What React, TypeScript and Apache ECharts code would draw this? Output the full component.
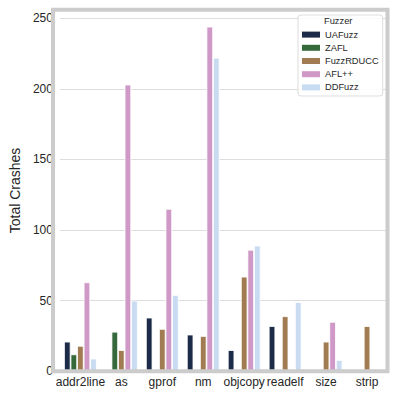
import React, { useEffect, useRef } from "react";
import * as echarts from "echarts";

const categories = ["addr2line", "as", "gprof", "nm", "objcopy", "readelf", "size", "strip"];
const fuzzers = ["UAFuzz", "ZAFL", "FuzzRDUCC", "AFL++", "DDFuzz"];
const uafuzz = [21, 0, 38, 26, 15, 32, 0, 0];
const zafl = [12, 28, 0, 0, 0, 0, 0, 0];
const fuzzrducc = [18, 15, 30, 25, 67, 39, 21, 32];
const aflpp = [63, 203, 115, 244, 86, 0, 35, 0];
const ddfuzz = [9, 50, 54, 222, 89, 49, 8, 0];
const seriesValues = [uafuzz, zafl, fuzzrducc, aflpp, ddfuzz];
const colors = ["#1c2b47", "#35693c", "#a17b51", "#cf98c6", "#c8dbf1"];
const yTicks = [0, 50, 100, 150, 200, 250];

export default function App() {
  const ref = useRef<HTMLDivElement>(null);
  useEffect(() => {
    const chart = echarts.init(ref.current!, null, { renderer: "svg" });
    const font = "'Liberation Sans', Arial, sans-serif";
    const L = 53, R = 11.5, T = 9.7, B = 27.7;
    chart.setOption({
      animation: false,
      color: colors,
      grid: { left: L, right: R, top: T, bottom: B, show: false },
      xAxis: {
        type: "category",
        data: categories,
        axisLine: { show: false },
        axisTick: { show: false },
        axisLabel: { color: "#262626", fontSize: 12, fontFamily: font, margin: 5, interval: 0 },
        splitLine: { show: false },
      },
      yAxis: {
        type: "value",
        min: 0,
        max: 256,
        interval: 50,
        name: "Total Crashes",
        nameLocation: "middle",
        nameGap: 32,
        nameTextStyle: { color: "#262626", fontSize: 14, fontFamily: font },
        axisLine: { show: false },
        axisTick: { show: false },
        axisLabel: {
          color: "#262626",
          fontSize: 12,
          fontFamily: font,
          margin: 7,
          formatter: (v: number) => (yTicks.includes(v) ? String(v) : ""),
        },
        splitLine: { lineStyle: { color: "#dddddd", width: 1 } },
      },
      legend: {
        orient: "vertical",
        left: 298,
        top: 15,
        data: fuzzers,
        icon: "rect",
        itemWidth: 18,
        itemHeight: 6,
        itemGap: 0,
        itemStyle: { borderWidth: 0 },
        textStyle: { color: "#262626", fontSize: 9.3, fontFamily: font, lineHeight: 13.2 },
        backgroundColor: "rgba(255,255,255,0.85)",
        borderColor: "#dddddd",
        borderWidth: 1,
        borderRadius: 3,
        padding: [13, 4, 2, 4],
        itemTextGap: 8,
        z: 20,
      },
      graphic: [
        {
          type: "rect",
          shape: { x: L, y: T, width: 399 - L - R, height: 399 - T - B },
          style: { fill: "none", stroke: "#cccccc", lineWidth: 4 },
          z: 10,
          silent: true,
        },
        {
          type: "text",
          left: 324,
          top: 16.5,
          style: { text: "Fuzzer", fill: "#262626", fontSize: 9.3, fontFamily: font },
          z: 100,
        },
      ],
      series: fuzzers.map((name, i) => ({
        name,
        type: "bar",
        data: seriesValues[i].map((v) => (v === 0 ? "-" : v)),
        barGap: "0%",
        barCategoryGap: "20%",
        itemStyle: { color: colors[i], borderColor: "#ffffff", borderWidth: 0.8 },
      })),
    });
    return () => chart.dispose();
  }, []);
  return <div ref={ref} style={{ width: 399, height: 399, position: "absolute", left: 0, top: 0 }} />;
}
